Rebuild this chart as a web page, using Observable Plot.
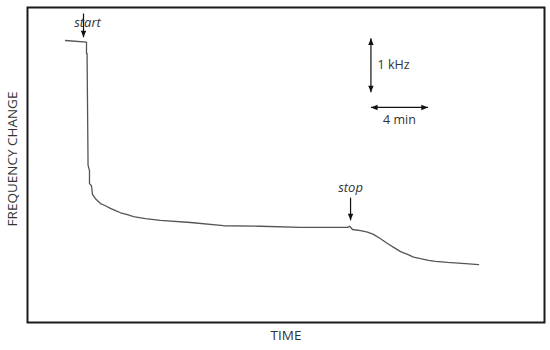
<!DOCTYPE html>
<html>
<head>
<meta charset="utf-8">
<script src="https://cdn.jsdelivr.net/npm/d3@7"></script>
<script src="https://cdn.jsdelivr.net/npm/@observablehq/plot@0.6"></script>
<style>
  html, body { margin: 0; padding: 0; background: #fff; }
  #chart { width: 550px; height: 350px; }
</style>
</head>
<body>
<div id="chart"></div>
<script>
// Time (minutes) and frequency change (kHz, relative to starting level)
const timeMin = [2.67, 4.14, 4.14, 4.18, 4.25, 4.35, 4.35, 4.49, 4.56, 4.77, 5.12, 5.47, 5.82, 6.18, 6.53, 6.95, 7.44, 8.28, 9.33, 11.44, 13.75, 16.35, 19.16, 22.46, 22.60, 22.81, 23.37, 23.86, 24.28, 24.77, 25.26, 25.75, 26.18, 26.67, 27.09, 27.58, 28.14, 28.63, 29.47, 30.74, 31.65];
const freqKHz = [0, -0.03, -0.24, -0.24, -2.31, -2.41, -2.65, -2.69, -2.85, -2.93, -3.02, -3.06, -3.11, -3.15, -3.19, -3.22, -3.26, -3.30, -3.33, -3.37, -3.43, -3.44, -3.46, -3.46, -3.44, -3.50, -3.52, -3.55, -3.59, -3.67, -3.76, -3.84, -3.91, -3.96, -4.01, -4.04, -4.07, -4.09, -4.11, -4.13, -4.15];

// Annotation arrows (start/stop markers and scale bars)
const arrowNames = ["start", "stop", "kHz", "min"];
const arrowX1 = [3.93, 22.67, 24.1, 24.1];
const arrowY1 = [0.50, -2.91, 0.04, -1.24];
const arrowX2 = [3.93, 22.67, 24.1, 28.1];
const arrowY2 = [0.06, -3.33, -0.96, -1.24];
// arrow heads: [x, y, direction]
const headX = [3.93, 22.67, 24.1, 24.1, 24.1, 28.1];
const headY = [0.06, -3.33, 0.04, -0.96, -1.24, -1.24];
const headDir = ["down", "down", "up", "down", "left", "right"];

// Annotation labels
const labelText = ["start", "stop", "1 kHz", "4 min"];
const labelX = [4.21, 22.67, 24.56, 26.1];
const labelY = [0.33, -2.72, -0.46, -1.48];
const labelAnchor = ["start", "middle", "start", "middle"];
const labelItalic = [true, true, false, false];

const xTitle = "TIME";
const yTitle = "FREQUENCY CHANGE";

const curve = timeMin.map((t, i) => ({t, f: freqKHz[i]}));
const arrows = arrowNames.map((n, i) => ({n, x1: arrowX1[i], y1: arrowY1[i], x2: arrowX2[i], y2: arrowY2[i]}));
const heads = headX.map((x, i) => ({x, y: headY[i], dir: headDir[i]}));
const labels = labelText.map((text, i) => ({text, x: labelX[i], y: labelY[i], anchor: labelAnchor[i], italic: labelItalic[i]}));

// filled triangular arrow heads with the tip at the anchor point
function tri(dir) {
  return {
    draw(ctx, size) {
      const s = Math.sqrt(size / Math.PI);
      const L = 2.2 * s, W = 0.9 * s;
      if (dir === "down") { ctx.moveTo(0, 0); ctx.lineTo(-W, -L); ctx.lineTo(W, -L); }
      if (dir === "up") { ctx.moveTo(0, 0); ctx.lineTo(-W, L); ctx.lineTo(W, L); }
      if (dir === "left") { ctx.moveTo(0, 0); ctx.lineTo(L, -W); ctx.lineTo(L, W); }
      if (dir === "right") { ctx.moveTo(0, 0); ctx.lineTo(-L, -W); ctx.lineTo(-L, W); }
      ctx.closePath();
    }
  };
}

const font = "'Open Sans', sans-serif";
const ink = "#333";

const plot = Plot.plot({
  width: 550,
  height: 350,
  marginLeft: 27,
  marginRight: 6,
  marginTop: 7,
  marginBottom: 28,
  x: {domain: [0, 36.28], axis: null},
  y: {domain: [-5.222, 0.611], axis: null},
  style: {fontFamily: font, background: "white"},
  marks: [
    Plot.frame({stroke: "#1a1a1a", strokeWidth: 2}),
    Plot.line(curve, {x: "t", y: "f", stroke: "#555", strokeWidth: 1.3}),
    Plot.link(arrows, {x1: "x1", y1: "y1", x2: "x2", y2: "y2", stroke: "#111", strokeWidth: 1.2}),
    ...["down", "up", "left", "right"].map(d =>
      Plot.dot(heads.filter(h => h.dir === d), {x: "x", y: "y", r: 3, symbol: tri(d), fill: "#111", stroke: "none"})
    ),
    Plot.text(labels.filter(l => l.italic), {x: "x", y: "y", text: "text", textAnchor: d => d.anchor, fontStyle: "italic", fontSize: 13, fill: ink}),
    Plot.text(labels.filter(l => !l.italic && l.anchor === "start"), {x: "x", y: "y", text: "text", textAnchor: "start", fontSize: 12.5, fill: ink}),
    Plot.text(labels.filter(l => !l.italic && l.anchor === "middle"), {x: "x", y: "y", text: "text", textAnchor: "middle", fontSize: 12.5, fill: ink}),
    Plot.text([xTitle], {frameAnchor: "bottom", text: d => d, dy: 17.5, fontSize: 13.5, fill: ink}),
    Plot.text([yTitle], {frameAnchor: "left", text: d => d, rotate: -90, textAnchor: "middle", dx: -14.5, dy: -6, fontSize: 13.5, fill: ink})
  ]
});
document.getElementById("chart").appendChild(plot);
</script>
</body>
</html>
